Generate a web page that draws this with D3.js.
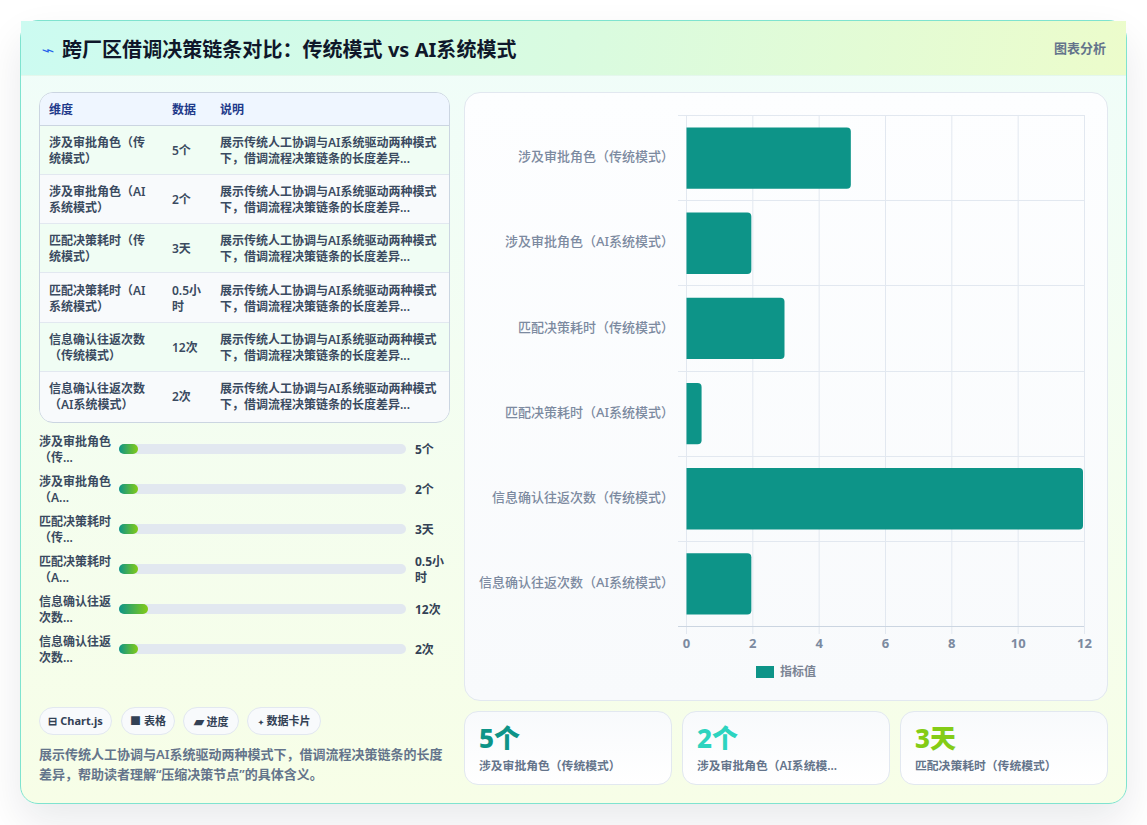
<!DOCTYPE html>
<html lang="zh">
<head>
<meta charset="utf-8">
<script src="https://cdn.jsdelivr.net/npm/d3@7/dist/d3.min.js"></script>
<style>
*{box-sizing:border-box}
html,body{margin:0;padding:0;width:1147px;height:825px;overflow:hidden;background:#ffffff;
 font-family:"Noto Sans","Noto Sans CJK SC",sans-serif;}
.abs{position:absolute}
#card{left:20px;top:20px;width:1107px;height:784px;border:1px solid #7fe3cf;border-radius:18px;
 background:linear-gradient(180deg,#f0fdfa 0%,#f7fee7 100%);box-shadow:0 18px 40px rgba(15,23,42,.09)}
#head{left:21px;top:21px;width:1105px;height:55px;background:linear-gradient(100deg,#ccfbf1 0%,#d9fbe0 50%,#ecfccb 100%);border-bottom:1px solid #e4f7ec}
#icon{left:41px;top:38px;font-size:17px;line-height:24px;color:#2563eb;font-family:"DejaVu Sans",sans-serif;transform:scale(1.3,.8);transform-origin:0 50%}
#title{left:62px;top:35px;font-size:20px;line-height:30px;font-weight:700;color:#0f172a;white-space:nowrap;letter-spacing:.04px}
#tag{left:1054px;top:38px;font-size:13px;line-height:20px;font-weight:600;color:#64748b;white-space:nowrap}
#tableWrap{left:39px;top:92px;width:411px;height:331px;border:1px solid #cbd5e1;border-radius:14px;overflow:hidden;background:#f8fafc}
table{border-collapse:collapse;table-layout:fixed;width:409px;font-size:12px;line-height:16px}
th{height:32px;background:#eff6ff;color:#1e3a8a;font-weight:700;text-align:left;padding:2px 8px 0 9px;border-bottom:1px solid #cbd5e1}
td{height:49.3px;padding:2px 8px 0 9px;color:#3a4a60;font-weight:600;border-bottom:1px solid #e2e8f0;word-break:break-all}
tr:last-child td{border-bottom:none}
tbody tr:nth-child(odd){background:#f0fdf4}
tbody tr:nth-child(even){background:#f8fafc}
.prow{position:absolute;left:39px;width:411px;height:40px}
.plabel{position:absolute;left:0;top:4px;width:74px;font-size:12px;line-height:16px;font-weight:600;color:#3a4a60}
.ptrack{position:absolute;left:80px;top:14px;width:287px;height:10px;border-radius:5px;background:#e2e8f0}
.pfill{position:absolute;left:0;top:0;height:10px;border-radius:5px;background:linear-gradient(90deg,#0d9488,#84cc16)}
.pval{position:absolute;left:376px;top:1px;height:38px;width:32px;display:flex;align-items:center;font-size:12px;line-height:16px;font-weight:700;color:#334155;word-break:break-all}
.pill{position:absolute;top:707px;height:28px;border:1px solid #e2e8f0;border-radius:14px;background:#f8fafc;font-size:11px;line-height:26px;font-weight:700;color:#334155;text-align:center;white-space:nowrap}
.pill .g{display:inline-block;margin-right:3px}
#desc{left:39px;top:744px;width:411px;font-size:13px;line-height:20px;font-weight:600;color:#64748b}
#panel{left:464px;top:92px;width:644px;height:609px;border:1px solid #e2e8f0;border-radius:16px;background:linear-gradient(180deg,#fdfeff 0%,#f8fafc 100%)}
#chart{left:464px;top:92px}
.stat{position:absolute;top:711px;height:74px;border:1px solid #e2e8f0;border-radius:14px;background:linear-gradient(180deg,#f8fafc,#ffffff)}
.stat .v{position:absolute;left:14px;top:9px;font-size:26px;line-height:34px;font-weight:800}
.stat .l{position:absolute;left:14px;top:44px;font-size:11.8px;line-height:18px;font-weight:600;color:#64748b;white-space:nowrap}
</style>
</head>
<body>
<div id="card" class="abs"></div>
<div id="head" class="abs"></div>
<div id="icon" class="abs">⌁</div>
<div id="title" class="abs"></div>
<div id="tag" class="abs"></div>
<div id="tableWrap" class="abs"></div>
<div id="progress"></div>
<div id="pills"></div>
<div id="desc" class="abs"></div>
<div id="panel" class="abs"></div>
<svg id="chart" class="abs" width="644" height="609"></svg>
<div id="stats"></div>
<script>
// Chart content
const titleText = "跨厂区借调决策链条对比：传统模式 vs AI系统模式";
const tagText = "图表分析";
const categories = ["涉及审批角色（传统模式）","涉及审批角色（AI系统模式）","匹配决策耗时（传统模式）","匹配决策耗时（AI系统模式）","信息确认往返次数（传统模式）","信息确认往返次数（AI系统模式）"];
const values = [5,2,3,0.5,12,2];
const displayValues = ["5个","2个","3天","0.5小时","12次","2次"];
const shortLabels = ["涉及审批角色（传...","涉及审批角色（A...","匹配决策耗时（传...","匹配决策耗时（A...","信息确认往返次数...","信息确认往返次数..."];
const tableHeaders = ["维度","数据","说明"];
const rowNote = "展示传统人工协调与AI系统驱动两种模式下，借调流程决策链条的长度差异...";
const pillIcons = ["⊟","■","▰","✦"];
const pillTexts = ["Chart.js","表格","进度","数据卡片"];
const pillIconSizes = [11,11,13,7];
const descText = "展示传统人工协调与AI系统驱动两种模式下，借调流程决策链条的长度差异，帮助读者理解“压缩决策节点”的具体含义。";
const statLabels = ["涉及审批角色（传统模式）","涉及审批角色（AI系统模...","匹配决策耗时（传统模式）"];
const statColors = ["#0d9488","#2dd4bf","#84cc16"];
const xTicks = [0,2,4,6,8,10,12];
const seriesName = "指标值";

d3.select("#title").text(titleText);
d3.select("#tag").text(tagText);
d3.select("#desc").text(descText);

// Table
const table = d3.select("#tableWrap").append("table");
const colgroup = table.append("colgroup");
colgroup.selectAll("col").data([123,48,238]).join("col").style("width",d=>d+"px");
table.append("thead").append("tr").selectAll("th").data(tableHeaders).join("th").text(d=>d);
const rows = table.append("tbody").selectAll("tr").data(categories).join("tr");
rows.append("td").text(d=>d);
rows.append("td").text((d,i)=>displayValues[i]);
rows.append("td").text(rowNote);

// Progress rows: the fill has a minimum width so small values stay visible
const fillScale = d3.scaleLinear().domain([0,120]).range([0,287]);
const prow = d3.select("#progress").selectAll("div").data(categories).join("div")
  .attr("class","prow").style("top",(d,i)=>(430+i*40)+"px");
prow.append("div").attr("class","plabel").text((d,i)=>shortLabels[i]);
const track = prow.append("div").attr("class","ptrack");
track.append("div").attr("class","pfill").style("width",(d,i)=>Math.max(19,fillScale(values[i]))+"px");
prow.append("div").attr("class","pval").append("span").text((d,i)=>displayValues[i]);

// Pills
const pillLefts = [39,121,183,247], pillWidths = [73,54,56,74];
const pill = d3.select("#pills").selectAll("div").data(pillTexts).join("div").attr("class","pill")
  .style("left",(d,i)=>pillLefts[i]+"px").style("width",(d,i)=>pillWidths[i]+"px");
pill.append("span").attr("class","g").style("font-size",(d,i)=>pillIconSizes[i]+"px").text((d,i)=>pillIcons[i]);
pill.append("span").text(d=>d);

// Horizontal bar chart
const svg = d3.select("#chart");
const ox = 464, oy = 92;
const x = d3.scaleLinear().domain([0,12]).range([686-ox,1084-ox]);
const y = d3.scaleBand().domain(categories).range([115-oy,626-oy]).paddingInner(0).paddingOuter(0);
const gridColor = "#e2e8f0";

svg.append("g").selectAll("line").data(xTicks).join("line")
  .attr("x1",d=>x(d)+.5).attr("x2",d=>x(d)+.5)
  .attr("y1",y.range()[0]).attr("y2",y.range()[1]+8)
  .attr("stroke",gridColor).attr("stroke-width",1);
const hLines = [...categories.map(c=>y(c)),y.range()[1]];
svg.append("g").selectAll("line").data(hLines).join("line")
  .attr("x1",x(0)-8).attr("x2",x(12))
  .attr("y1",d=>Math.round(d)+.5).attr("y2",d=>Math.round(d)+.5)
  .attr("stroke",(d,i)=>i===categories.length?"#cbd5e1":gridColor);

// Bars: square at the baseline, rounded at the value end, inset by the border width
const barH = y.bandwidth()*0.72, r = 4, inset = 1;
svg.append("g").selectAll("path").data(categories).join("path")
  .attr("fill","#0d9488")
  .attr("d",(c,i)=>{
    const x0=x(0)+.5, x1=x(values[i])-inset, y0=y(c)+(y.bandwidth()-barH)/2+.5, y1=y0+barH;
    return `M${x0},${y0}H${x1-r}A${r},${r} 0 0 1 ${x1},${y0+r}V${y1-r}A${r},${r} 0 0 1 ${x1-r},${y1}H${x0}Z`;
  });

const axisFont = '"Noto Sans","Noto Sans CJK SC",sans-serif';
const axisY = d3.axisLeft(y).tickSize(0).tickPadding(12);
svg.append("g").attr("transform",`translate(${x(0)},-0.5)`).call(axisY)
  .call(g=>g.select(".domain").remove())
  .selectAll("text").attr("fill","#7c8aa0").attr("font-size",13).attr("font-weight",500)
  .attr("font-family",axisFont);
const axisX = d3.axisBottom(x).tickValues(xTicks).tickSize(0).tickPadding(13);
svg.append("g").attr("transform",`translate(0,${y.range()[1]})`).call(axisX)
  .call(g=>g.select(".domain").remove())
  .selectAll("text").attr("fill","#7c8aa0").attr("font-size",13).attr("font-weight",700)
  .attr("font-family",axisFont);

// Legend
const legend = svg.append("g").attr("transform",`translate(${756-ox},${666-oy})`);
legend.append("rect").attr("width",18).attr("height",12).attr("fill","#0d9488");
legend.append("text").attr("x",24).attr("y",10).attr("font-size",12).attr("font-weight",700).attr("fill","#7b8494").text(seriesName);

// Stat cards
const statLefts = [464,682,900];
const stat = d3.select("#stats").selectAll("div").data(statLabels).join("div").attr("class","stat")
  .style("left",(d,i)=>statLefts[i]+"px").style("width","208px");
stat.append("div").attr("class","v").style("color",(d,i)=>statColors[i]).text((d,i)=>displayValues[i]);
stat.append("div").attr("class","l").text(d=>d);
</script>
</body>
</html>
